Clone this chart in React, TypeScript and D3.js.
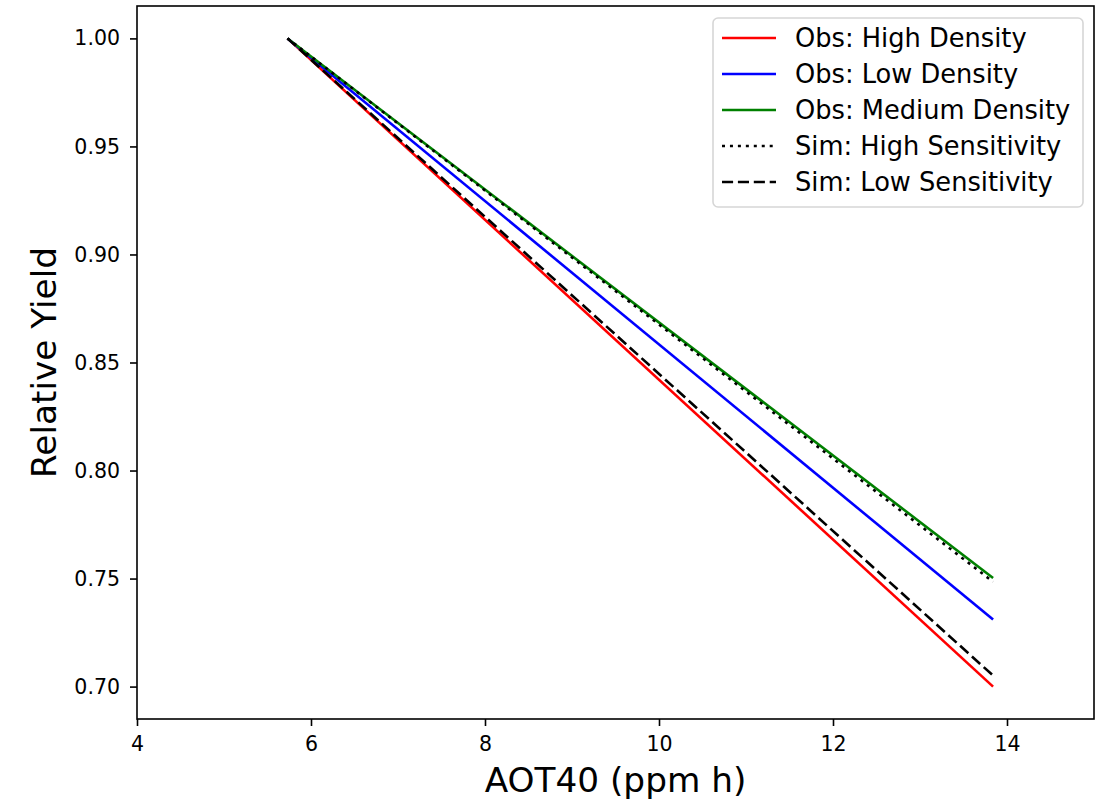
import React, { useEffect, useRef } from "react";
import * as d3 from "d3";

// AOT40 exposure (ppm h) at the start and end of each response line
const aot40 = [5.73, 13.84];
const obsHigh = [1.0, 0.7];
const obsLow = [1.0, 0.731];
const obsMedium = [1.0, 0.7503];
const simHigh = [1.0, 0.7485];
const simLow = [1.0, 0.7051];

const xTicks = [4, 6, 8, 10, 12, 14];
const yTicks = [0.7, 0.75, 0.8, 0.85, 0.9, 0.95, 1.0];

const series = [
  { name: "Obs: High Density", values: obsHigh, color: "#ff0000", dash: null },
  { name: "Obs: Low Density", values: obsLow, color: "#0000ff", dash: null },
  { name: "Obs: Medium Density", values: obsMedium, color: "#008000", dash: null },
  { name: "Sim: High Sensitivity", values: simHigh, color: "#000000", dash: "3,4.95" },
  { name: "Sim: Low Sensitivity", values: simLow, color: "#000000", dash: "11.1,4.8" },
];

export default function App() {
  const svgRef = useRef<SVGSVGElement | null>(null);

  useEffect(() => {
    const svg = d3.select(svgRef.current);
    svg.selectAll("*").remove();
    const width = 1096;
    const height = 799;
    const margin = { top: 6, right: 2, bottom: 80, left: 137 };
    const font = "DejaVu Sans, sans-serif";

    const allY = series.flatMap((s) => s.values);
    const yMin = d3.min(allY) as number;
    const yMax = d3.max(allY) as number;
    const pad = (yMax - yMin) * 0.05;

    const x = d3
      .scaleLinear()
      .domain([4, 15])
      .range([margin.left, width - margin.right]);
    const y = d3
      .scaleLinear()
      .domain([yMin - pad, yMax + pad])
      .range([height - margin.bottom, margin.top]);

    const line = d3
      .line<number>()
      .x((d, i) => x(aot40[i]))
      .y((d) => y(d));

    series.forEach((s) => {
      svg
        .append("path")
        .datum(s.values)
        .attr("fill", "none")
        .attr("stroke", s.color)
        .attr("stroke-width", 2.6)
        .attr("stroke-dasharray", s.dash)
        .attr("d", line);
    });

    // axes
    const xAxis = d3
      .axisBottom(x)
      .tickValues(xTicks)
      .tickSize(7)
      .tickPadding(10)
      .tickFormat(d3.format("d"));
    const gx = svg
      .append("g")
      .attr("transform", `translate(0, ${height - margin.bottom})`)
      .call(xAxis);

    const yAxis = d3
      .axisLeft(y)
      .tickValues(yTicks)
      .tickSize(7)
      .tickPadding(10)
      .tickFormat(d3.format(".2f"));
    const gy = svg
      .append("g")
      .attr("transform", `translate(${margin.left}, 0)`)
      .call(yAxis);

    [gx, gy].forEach((g) => {
      g.select(".domain").remove();
      g.selectAll("line").attr("stroke", "#000").attr("stroke-width", 1.6);
      g.selectAll("text")
        .attr("font-family", font)
        .attr("font-size", 20.5)
        .attr("fill", "#000");
    });

    // frame
    svg
      .append("rect")
      .attr("x", margin.left)
      .attr("y", margin.top)
      .attr("width", width - margin.left - margin.right)
      .attr("height", height - margin.top - margin.bottom)
      .attr("fill", "none")
      .attr("stroke", "#000")
      .attr("stroke-width", 1.6);

    // axis labels
    svg
      .append("text")
      .attr("x", (margin.left + width - margin.right) / 2)
      .attr("y", 792)
      .attr("text-anchor", "middle")
      .attr("font-family", font)
      .attr("font-size", 34.3)
      .text("AOT40 (ppm h)");

    svg
      .append("text")
      .attr("transform", `translate(56, ${(margin.top + height - margin.bottom) / 2}) rotate(-90)`)
      .attr("text-anchor", "middle")
      .attr("font-family", font)
      .attr("font-size", 34.3)
      .text("Relative Yield");

    // legend
    const legend = svg.append("g").attr("transform", "translate(713, 18)");
    legend
      .append("rect")
      .attr("width", 370)
      .attr("height", 189)
      .attr("rx", 5)
      .attr("fill", "#fff")
      .attr("fill-opacity", 0.8)
      .attr("stroke", "#d6d6d6")
      .attr("stroke-width", 1.6);
    series.forEach((s, i) => {
      const cy = 20 + i * 36;
      legend
        .append("line")
        .attr("x1", 9)
        .attr("x2", 63)
        .attr("y1", cy)
        .attr("y2", cy)
        .attr("stroke", s.color)
        .attr("stroke-width", 2.6)
        .attr("stroke-dasharray", s.dash);
      legend
        .append("text")
        .attr("x", 82)
        .attr("y", cy)
        .attr("dy", "0.35em")
        .attr("font-family", font)
        .attr("font-size", 25.7)
        .attr("fill", "#000")
        .text(s.name);
    });
  }, []);

  return (
    <svg
      ref={svgRef}
      width={1096}
      height={799}
      style={{ position: "absolute", left: 0, top: 0, background: "#fff" }}
    ></svg>
  );
}
